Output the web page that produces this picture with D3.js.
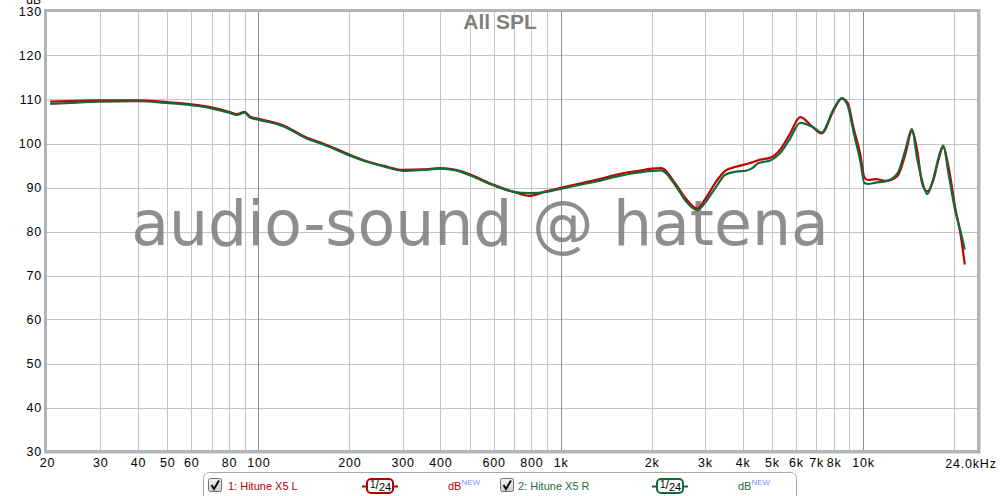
<!DOCTYPE html>
<html><head><meta charset="utf-8">
<script src="https://cdn.jsdelivr.net/npm/d3@7"></script>
<style>
html,body{margin:0;padding:0;background:#fff;}
svg{display:block;}
text{font-family:"Liberation Sans",Arial,sans-serif;}
</style></head>
<body>
<svg id="chart" width="1000" height="496"></svg>
<script>
// ---- data ----
const freqs = [20.5,25,30,40,50,60,70,80,85,90,94,100,120,145,165,200,230,260,300,350,400,450,500,600,700,790,900,1000,1300,1650,1850,2000,2150,2400,2600,2830,3000,3270,3500,3800,4100,4300,4500,4950,5300,5700,6200,6800,7300,8000,8500,8900,9300,9800,10100,10400,11000,12000,13000,13800,14500,15100,15700,16300,17100,17800,18400,19200,20200,21000,21700];
const splLeft = [109.5,109.7,109.8,109.8,109.4,108.9,108.2,107.2,106.7,107.2,106.1,105.6,104.2,101.3,99.9,97.5,95.9,94.9,94.0,94.1,94.4,94.0,93.0,90.6,89.0,88.1,89.2,89.9,91.7,93.4,93.9,94.3,94.4,90.8,87.4,85.2,87.3,91.4,93.8,94.7,95.3,95.7,96.2,96.8,98.5,101.9,106.0,103.8,102.3,107.6,110.2,109.2,103.6,97.4,92.3,91.7,91.9,91.5,92.6,97.5,102.8,98.5,90.8,89.1,91.8,96.5,99.2,94.5,85.2,79.5,72.5];
const splRight = [109.0,109.3,109.5,109.6,109.2,108.7,108.0,107.0,106.5,107.0,105.9,105.4,104.0,101.1,99.7,97.3,95.8,94.8,93.8,94.0,94.3,93.9,92.8,90.5,89.0,88.7,89.0,89.7,91.3,93.0,93.5,93.8,93.9,90.4,86.8,84.8,86.5,90.2,92.9,93.6,93.8,94.4,95.5,96.2,97.7,100.8,104.7,103.8,102.5,107.9,110.3,108.6,102.6,95.9,91.0,90.8,91.1,91.5,93.2,98.5,103.3,96.6,91.4,88.5,92.1,97.0,99.5,92.9,84.6,80.1,75.9];
const seriesNames = ["1: Hitune X5 L","2: Hitune X5 R"];
const xTickValues = [20,30,40,50,60,80,100,200,300,400,600,800,1000,2000,3000,4000,5000,6000,7000,8000,10000];
const xTickLabels = ["20","30","40","50","60","80","100","200","300","400","600","800","1k","2k","3k","4k","5k","6k","7k","8k","10k"];
const xMinorGrid = [30,40,50,60,70,80,90,200,300,400,500,600,700,800,900,2000,3000,4000,5000,6000,7000,8000,9000,20000];
const xMajorGrid = [100,1000,10000];
const yTicks = [30,40,50,60,70,80,90,100,110,120,130];
const title = "All SPL";
const watermark = "audio-sound @ hatena";

// ---- chart ----
const svg = d3.select("#chart");
const x = d3.scaleLog().domain([20,24000]).range([47,978]);
const y = d3.scaleLinear().domain([30,130]).range([451.5,11.5]);

// grid
const grid = svg.append("g");
grid.selectAll("line.h").data(yTicks.slice(1,-1)).join("line")
  .attr("x1",x(20)).attr("x2",x(24000))
  .attr("y1",d=>Math.round(y(d))+0.5).attr("y2",d=>Math.round(y(d))+0.5)
  .attr("stroke","#c4c4c4").attr("stroke-width",1);
grid.selectAll("line.v").data(xMinorGrid).join("line")
  .attr("x1",d=>Math.round(x(d))+0.5).attr("x2",d=>Math.round(x(d))+0.5)
  .attr("y1",y(130)).attr("y2",y(30))
  .attr("stroke","#c4c4c4").attr("stroke-width",1);
grid.selectAll("line.vm").data(xMajorGrid).join("line")
  .attr("x1",d=>Math.round(x(d))+0.5).attr("x2",d=>Math.round(x(d))+0.5)
  .attr("y1",y(130)).attr("y2",y(30))
  .attr("stroke","#8c8c8c").attr("stroke-width",1);

// watermark
svg.append("text").attr("x",480).attr("y",245)
  .attr("text-anchor","middle")
  .style("font-family","'DejaVu Sans',sans-serif").style("font-size","61.6px")
  .attr("fill","#7a7a7a").attr("fill-opacity",0.85)
  .text(watermark);

// title
svg.append("text").attr("x",500).attr("y",29).attr("text-anchor","middle")
  .style("font-size","21px").style("font-weight","bold").attr("fill","#7f7f7f")
  .text(title);

// frame
svg.append("rect").attr("x",45.5).attr("y",10.5).attr("width",933).attr("height",441)
  .attr("fill","none").attr("stroke","#b4b4b4").attr("stroke-width",3);
svg.append("line").attr("x1",44).attr("x2",981).attr("y1",453.5).attr("y2",453.5).attr("stroke","#dcdcdc");
svg.append("line").attr("x1",980.5).attr("x2",980.5).attr("y1",9).attr("y2",454).attr("stroke","#dcdcdc");

// curves
const line = d3.line().x(d=>x(d[0])).y(d=>y(d[1])).curve(d3.curveMonotoneX);
const dataL = freqs.map((f,i)=>[f,splLeft[i]]);
const dataR = freqs.map((f,i)=>[f,splRight[i]]);
svg.append("path").attr("d",line(dataL)).attr("fill","none").attr("stroke","#c40000").attr("stroke-width",2.2).attr("stroke-linejoin","round");
svg.append("path").attr("d",line(dataR)).attr("fill","none").attr("stroke","#14693a").attr("stroke-width",2.2).attr("stroke-linejoin","round");

// axes
const xAxis = d3.axisBottom(x).tickValues(xTickValues).tickFormat((d,i)=>xTickLabels[i]).tickSize(0).tickPadding(0);
const gx = svg.append("g").attr("transform","translate(0,458)").call(xAxis);
gx.select(".domain").remove();
gx.selectAll("text").style("font-family","'Liberation Sans',Arial,sans-serif").style("font-size","12.5px").style("letter-spacing","0.8px").attr("fill","#000").attr("dy","0.71em");
svg.append("text").attr("x",x(24000)-7).attr("y",467.5).attr("text-anchor","middle")
  .style("font-size","12.5px").style("letter-spacing","0.8px").attr("fill","#000").text("24.0kHz");

const yAxis = d3.axisLeft(y).tickValues(yTicks).tickFormat(d3.format("d")).tickSize(0).tickPadding(0);
const gy = svg.append("g").attr("transform","translate(42,0)").call(yAxis);
gy.select(".domain").remove();
gy.selectAll("text").style("font-family","'Liberation Sans',Arial,sans-serif").style("font-size","12.5px").style("letter-spacing","0.8px").attr("fill","#000");
svg.append("text").attr("x",41).attr("y",4).attr("text-anchor","end").style("font-size","12px").attr("fill","#000").text("dB");

// legend
const lg = svg.append("g");
lg.append("rect").attr("x",203.5).attr("y",472.5).attr("width",593).attr("height",40).attr("rx",6)
  .attr("fill","#fff").attr("stroke","#a8a8a8");
const defs = svg.append("defs");
const grad = defs.append("linearGradient").attr("id","cb").attr("x1",0).attr("y1",0).attr("x2",0).attr("y2",1);
grad.append("stop").attr("offset","0%").attr("stop-color","#f4f4f4");
grad.append("stop").attr("offset","100%").attr("stop-color","#cfcfcf");
const legendItems = [
  {name:seriesNames[0], color:"#b00000", line:"#b00000", cb:208, tx:228, box:362, db:448},
  {name:seriesNames[1], color:"#1c6e3a", line:"#14693a", cb:500, tx:518, box:652, db:738}
];
legendItems.forEach(it=>{
  lg.append("rect").attr("x",it.cb+0.5).attr("y",478.5).attr("width",13).attr("height",13).attr("rx",2)
    .attr("fill","url(#cb)").attr("stroke","#6e6e6e");
  lg.append("path").attr("d",`M${it.cb+3.5},${485} L${it.cb+6},${489} L${it.cb+11},${480.5}`)
    .attr("fill","none").attr("stroke","#111").attr("stroke-width",2);
  lg.append("text").attr("x",it.tx).attr("y",490).style("font-size","11px").attr("fill",it.color).text(it.name);
  lg.append("line").attr("x1",it.box).attr("x2",it.box+36).attr("y1",486.5).attr("y2",486.5).attr("stroke",it.line).attr("stroke-width",2);
  lg.append("rect").attr("x",it.box+5).attr("y",479).attr("width",26).attr("height",14).attr("rx",4)
    .attr("fill","#fff").attr("stroke",it.line).attr("stroke-width",2);
  const t = lg.append("text").attr("x",it.box+8).attr("y",489).style("font-size","12px").attr("fill","#000");
  t.append("tspan").style("font-size","10px").attr("dy",-1).text("1");
  t.append("tspan").attr("dy",1).text("/");
  t.append("tspan").style("font-size","11px").attr("dy",2).text("24");
  const d = lg.append("text").attr("x",it.db).attr("y",490).style("font-size","11px").attr("fill",it.color);
  d.append("tspan").text("dB");
  d.append("tspan").attr("dy",-5).style("font-size","8px").attr("fill","#8a8aff").text("NEW");
});
</script>
</body></html>
